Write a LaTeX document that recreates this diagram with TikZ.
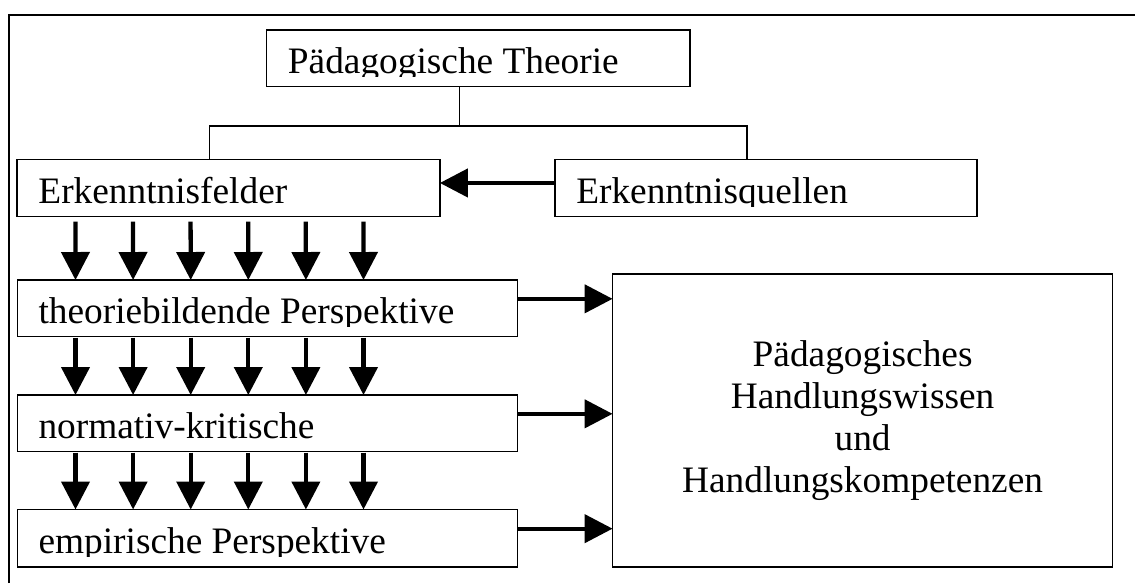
\documentclass[tikz,border=0pt]{standalone}
\usepackage{fontspec}
\setmainfont{Liberation Serif}
\usetikzlibrary{arrows.meta}

\tikzset{
  fieldbox/.style={draw, line width=1.1pt, inner sep=0pt, outer sep=0pt, anchor=north west},
  fat/.style={line width=3.2pt, -{Triangle[length=21pt,width=21pt]}},
  boxtext/.style={anchor=base west, inner sep=0pt},
}

\begin{document}
\begin{tikzpicture}[x=0.75pt,y=0.75pt,yscale=-1,xscale=1,every node/.style={font=\fontsize{28}{31.5}\selectfont}]
\useasboundingbox (0,0) rectangle (1135,583);

%outer frame (runs off at right and bottom)
\draw[line width=1.5pt] (9,583) -- (9,15) -- (1135,15);

%boxes
\node[fieldbox, minimum width=317.5pt, minimum height=42.5pt] (theorie) at (266.7,30) {};
\node[fieldbox, minimum width=317pt, minimum height=43pt] (felder) at (17.2,159.3) {};
\node[fieldbox, minimum width=316.5pt, minimum height=43pt] (quellen) at (555,159.3) {};
\node[fieldbox, minimum width=375pt, minimum height=42.5pt] (theo) at (17.3,280) {};
\node[fieldbox, minimum width=375pt, minimum height=42.5pt] (norm) at (17.3,395) {};
\node[fieldbox, minimum width=375pt, minimum height=43pt] (emp) at (17.3,509.5) {};
\node[fieldbox, minimum width=375pt, minimum height=219.75pt, align=center] (big) at (612.6,274)
  {Pädagogisches\\Handlungswissen\\und\\Handlungskompetenzen};

%box texts, descenders cut like in the text boxes of the source
\foreach \n/\txt in {theorie/Pädagogische Theorie, felder/Erkenntnisfelder, quellen/Erkenntnisquellen,
    theo/theoriebildende Perspektive, norm/normativ-kritische, emp/empirische Perspektive}{
  \begin{scope}
    \clip (\n.north west) rectangle ([shift={(0,-10.5)}]\n.south east);
    \node[boxtext] (\n-txt) at ([shift={(21,-13)}]\n.south west) {\txt};
  \end{scope}
}

%tree lines
\coordinate (top-stem) at ([shift={(-19,0)}]theorie.south);
\coordinate (f-stem) at ([shift={(-19,0)}]felder.north);
\coordinate (q-stem) at ([shift={(-19,0)}]quellen.north);
\draw[line width=1.1pt] (top-stem) -- ++(0,39.3);
\draw[line width=1.1pt] (f-stem) -- ++(0,-33.3) -| (q-stem);

%sources into fields
\coordinate (q-out) at ([shift={(0,-5)}]quellen.west);
\draw[fat] (q-out) -- (q-out -| felder.east);

%downward arrows
\foreach \i in {0,...,5}{
  \draw[fat] ([shift={(58.2+57.6*\i,5)}]felder.south west) -- ([shift={(58.2+57.6*\i,0)}]theo.north west);
  \draw[fat] ([shift={(58.2+57.6*\i,1)}]theo.south west) -- ([shift={(58.2+57.6*\i,0)}]norm.north west);
  \draw[fat] ([shift={(58.2+57.6*\i,1)}]norm.south west) -- ([shift={(58.2+57.6*\i,0)}]emp.north west);
}

%into the competence box
\foreach \n in {theo,norm,emp}{
  \coordinate (\n-out) at ([shift={(0,-9.5)}]\n.east);
  \draw[fat] (\n-out) -- (\n-out -| big.west);
}

\end{tikzpicture}
\end{document}
